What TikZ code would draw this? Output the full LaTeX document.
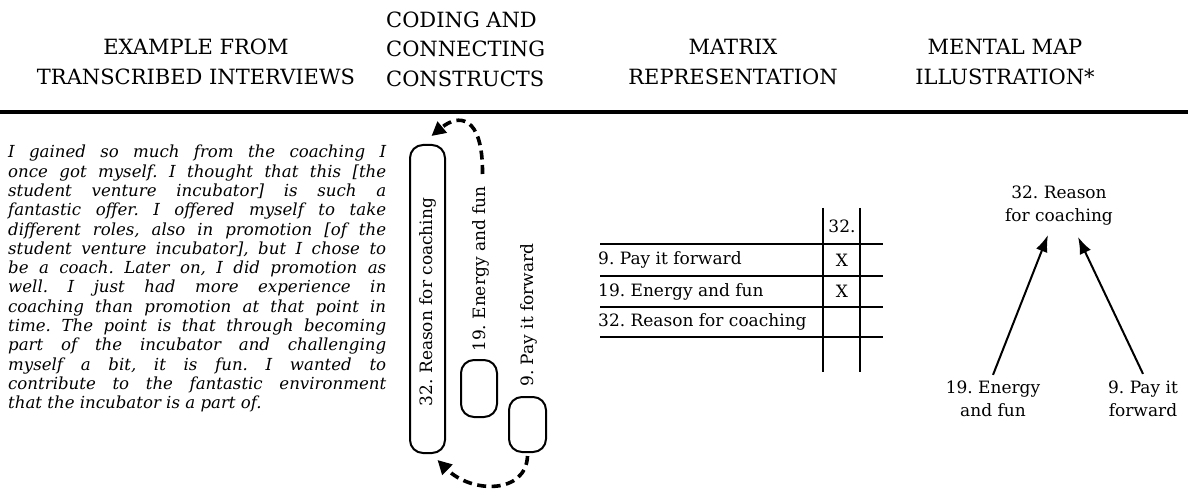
\documentclass[tikz,border=0pt]{standalone}
\usepackage{fontspec}
\setmainfont{DejaVu Serif}
\usetikzlibrary{arrows.meta}
\frenchspacing
\begin{document}
\begin{tikzpicture}[x=1pt,y=-1pt,
  head/.style={font=\fontsize{21}{29.5}\selectfont, align=center, inner sep=0pt},
  lbl/.style={font=\fontsize{17}{23}\selectfont, inner sep=0pt},
  cbox/.style={draw, line width=2pt, rounded corners=13pt, minimum width=#1, inner sep=0pt},
  dasharrow/.style={line width=3.6pt, dash pattern=on 9pt off 5.5pt, -{Triangle[length=14pt,width=14pt]}},
  maparrow/.style={line width=2pt, -{Latex[length=17pt,width=12pt]}},
  grid/.style={line width=2pt}
]
\useasboundingbox (0,0) rectangle (1188,497);
% headers
\node[head] (h1) at (196,62) {EXAMPLE FROM\\TRANSCRIBED INTERVIEWS};
\node[head, align=left, anchor=west] (h2) at (386,49) {CODING AND\\CONNECTING\\CONSTRUCTS};
\node[head] (h3) at (733,62) {MATRIX\\REPRESENTATION};
\node[head] (h4) at (1005,62) {MENTAL MAP\\ILLUSTRATION*};
\draw[line width=3.4pt] (0,112) -- (1188,112);
% body text
\node[anchor=north west, inner sep=0pt, align=left,
      font=\fontsize{16.6}{19.3}\selectfont\itshape] (txt) at (8,145) {%
\makebox[378pt][s]{I gained so much from the coaching I}\\
\makebox[378pt][s]{once got myself. I thought that this [the}\\
\makebox[378pt][s]{student venture incubator] is such a}\\
\makebox[378pt][s]{fantastic offer. I offered myself to take}\\
\makebox[378pt][s]{different roles, also in promotion [of the}\\
\makebox[378pt][s]{student venture incubator], but I chose to}\\
\makebox[378pt][s]{be a coach. Later on, I did promotion as}\\
\makebox[378pt][s]{well. I just had more experience in}\\
\makebox[378pt][s]{coaching than promotion at that point in}\\
\makebox[378pt][s]{time. The point is that through becoming}\\
\makebox[378pt][s]{part of the incubator and challenging}\\
\makebox[378pt][s]{myself a bit, it is fun. I wanted to}\\
\makebox[378pt][s]{contribute to the fantastic environment}\\
that the incubator is a part of.};
% coding column
\node[cbox=35pt, minimum height=308pt] (big) at (427.5,299) {};
\node[cbox=36pt, minimum height=57pt] (b19) at (479,388.5) {};
\node[cbox=37pt, minimum height=55pt] (b9) at (527.5,424.5) {};
\node[lbl, rotate=90] (t32) at (427.5,302) {32. Reason for coaching};
\node[lbl, rotate=90, anchor=west] (t19) at (480.5,352) {19. Energy and fun};
\node[lbl, rotate=90, anchor=west] (t9) at (528.5,387) {9. Pay it forward};
\coordinate (s19) at (482.5,174);
\draw[dasharrow] (s19) .. controls (483,114) and (458,114) .. ([xshift=4pt,yshift=8pt]big.north);
\draw[dasharrow] ([yshift=-3pt]b9.south) .. controls (526,494) and (472,494) .. ([xshift=10pt,yshift=-6pt]big.south);
% matrix
\draw[grid] (823,208) -- (823,372);
\draw[grid] (860,208) -- (860,372);
\foreach \yy in {244,276,307,337} \draw[grid] (600,\yy) -- (883,\yy);
\node[lbl] (c32) at (842,226) {32.};
\node[lbl, anchor=west] (r9) at (598,260) {9. Pay it forward};
\node[lbl, anchor=west] (r19) at (598,291.5) {19. Energy and fun};
\node[lbl, anchor=west] (r32) at (598,322) {32. Reason for coaching};
\node[lbl] (x9) at (842,260) {X};
\node[lbl] (x19) at (842,291.5) {X};
% mental map
\node[lbl, align=center] (m32) at (1059,206) {32. Reason\\for coaching};
\node[lbl, align=center] (m19) at (993,399) {19. Energy\\and fun};
\node[lbl, align=center] (m9) at (1143,399) {9. Pay it\\forward};
\draw[maparrow] ([yshift=6pt]m19.north) -- ([xshift=-11pt,yshift=-9pt]m32.south);
\draw[maparrow] ([yshift=7pt]m9.north) -- ([xshift=19pt,yshift=-11pt]m32.south);
\end{tikzpicture}
\end{document}
